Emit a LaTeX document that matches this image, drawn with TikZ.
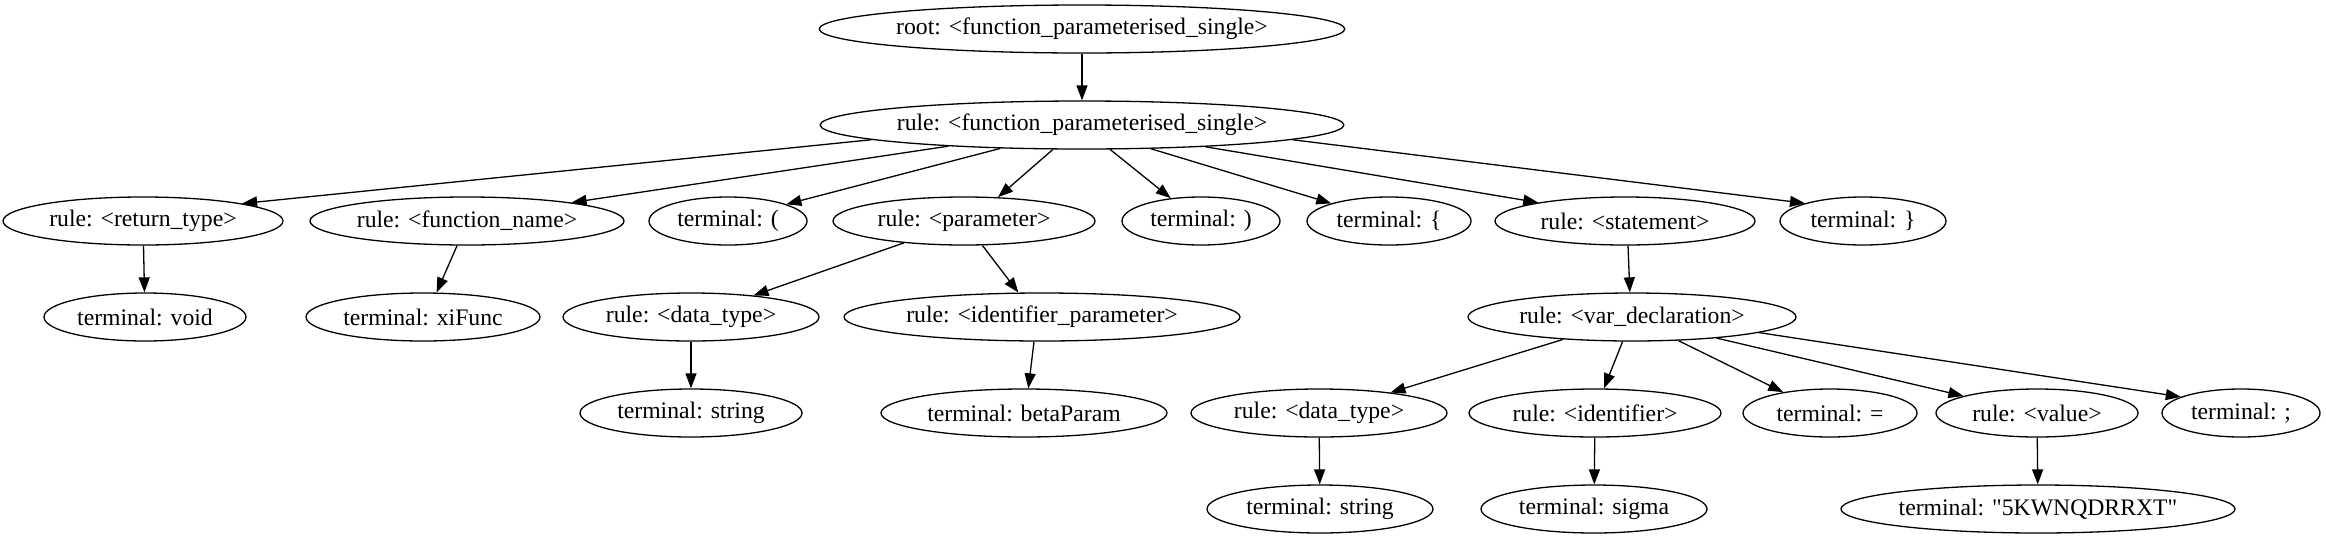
\documentclass[tikz,border=0pt]{standalone}
\usepackage{fontspec}
\setmainfont{Liberation Serif}
\usetikzlibrary{arrows.meta,shapes.geometric}
\tikzset{
  tnode/.style={draw, ellipse, line width=1.3pt, inner sep=0pt, minimum height=48pt, font=\fontsize{23.7}{26}\selectfont},
  edge/.style={line width=1.3pt, -{Triangle[length=15pt,width=11pt]}},
}
\newcommand{\nd}[5]{\node[tnode, minimum width=#4pt] (#1) at (#2,#3) {#5};}
\begin{document}
\begin{tikzpicture}[x=1pt,y=-1pt]
\useasboundingbox (0,0) rectangle (2326,539);
\nd{root}{1082}{29}{518}{root: <function\_parameterised\_single>}
\nd{rfps}{1082}{125}{514}{rule: <function\_parameterised\_single>}
\nd{rt}{143}{221}{280}{rule: <return\_type>}
\nd{fn}{467}{221}{314}{rule: <function\_name>}
\nd{lp}{728}{221}{158}{terminal: (}
\nd{par}{964}{221}{262}{rule: <parameter>}
\nd{rp}{1201}{221}{158}{terminal: )}
\nd{lb}{1389}{221}{164}{terminal: \{}
\nd{stm}{1625}{221}{260}{rule: <statement>}
\nd{rb}{1863}{221}{166}{terminal: \}}
\nd{void}{145}{317}{202}{terminal: void}
\nd{xif}{423}{317}{234}{terminal: xiFunc}
\nd{dt}{691}{317}{256}{rule: <data\_type>}
\nd{idp}{1042}{317}{396}{rule: <identifier\_parameter>}
\nd{vd}{1632}{317}{328}{rule: <var\_declaration>}
\nd{str}{691}{413}{222}{terminal: string}
\nd{beta}{1024}{413}{286}{terminal: betaParam}
\nd{dtb}{1319}{413}{256}{rule: <data\_type>}
\nd{id}{1595}{413}{252}{rule: <identifier>}
\nd{eq}{1830}{413}{174}{terminal: =}
\nd{val}{2037}{413}{202}{rule: <value>}
\nd{semi}{2241}{413}{158}{terminal: ;}
\nd{strb}{1320}{509}{226}{terminal: string}
\nd{sig}{1594}{509}{226}{terminal: sigma}
\nd{kw}{2038}{509}{360}{terminal: \textquotedbl 5KWNQDRRXT\textquotedbl}

\draw[edge] (root) -- (rfps);
\draw[edge] (rfps.184) -- (rt.10);
\draw[edge] (rfps.189) -- (fn.10);
\draw[edge] (rfps.196) -- (lp.16);
\draw[edge] (rfps.220) -- (par.35);
\draw[edge] (rfps.319) -- (rp.143);
\draw[edge] (rfps.341) -- (lb.163);
\draw[edge] (rfps.350) -- (stm.168);
\draw[edge] (rfps.356) -- (rb.163);
\draw[edge] (rt) -- (void);
\draw[edge] (fn.248) -- (xif.61);
\draw[edge] (par.200) -- (dt.19);
\draw[edge] (par.307) -- (idp.134);
\draw[edge] (dt) -- (str);
\draw[edge] (idp.252) -- (beta.80);
\draw[edge] (stm.277) -- (vd.95);
\draw[edge] (vd.198) -- (dtb.16);
\draw[edge] (vd.249) -- (id.70);
\draw[edge] (vd.333) -- (eq.156);
\draw[edge] (vd.346) -- (val.167);
\draw[edge] (vd.353) -- (semi.165);
\draw[edge] (dtb) -- (strb);
\draw[edge] (id) -- (sig);
\draw[edge] (val) -- (kw);
\end{tikzpicture}
\end{document}
